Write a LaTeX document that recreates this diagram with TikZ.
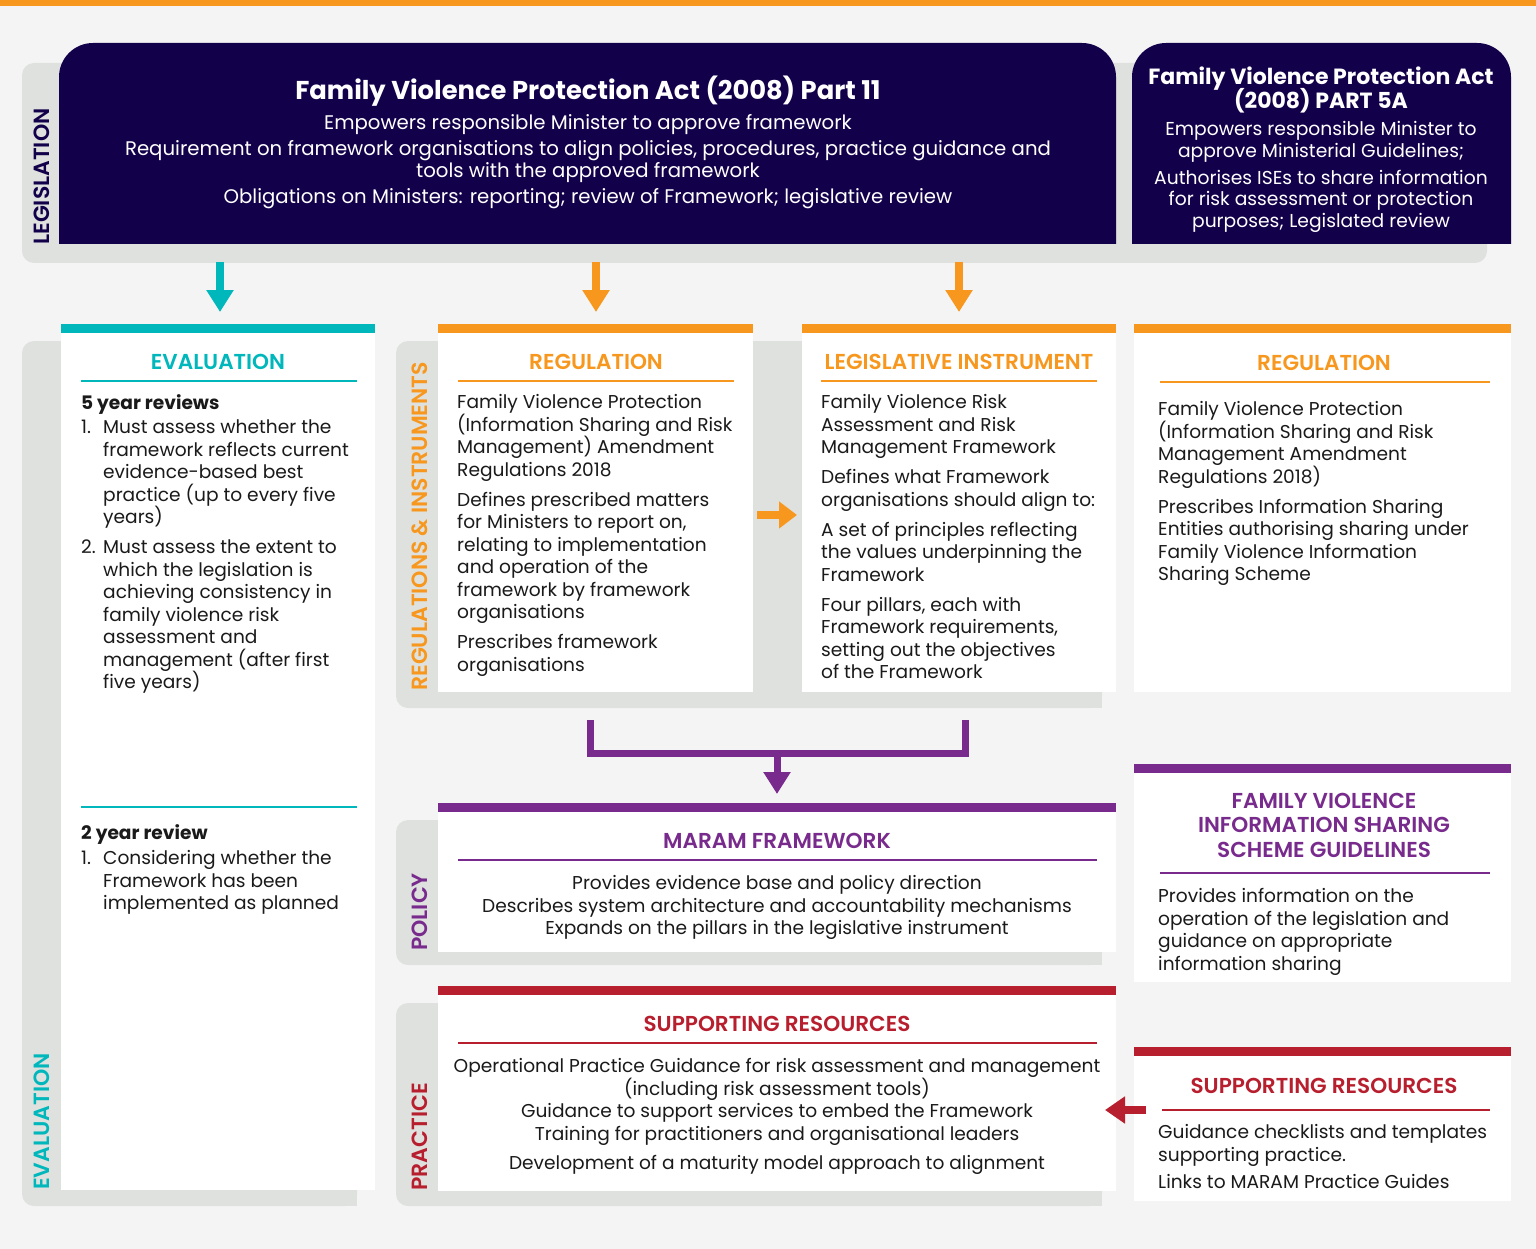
\documentclass[tikz,border=0pt]{standalone}
\usepackage{fontspec}
\setmainfont{Poppins}
\newfontfamily\semib{Poppins SemiBold}
\usetikzlibrary{arrows.meta}
\definecolor{navy}{HTML}{13004A}
\definecolor{tealc}{HTML}{00B7BC}
\definecolor{orangec}{HTML}{F7971D}
\definecolor{purplec}{HTML}{782B8D}
\definecolor{redc}{HTML}{B81F2E}
\definecolor{bandc}{HTML}{DFE1DE}
\definecolor{bgc}{HTML}{F4F4F4}
\definecolor{txt}{HTML}{1A1A1A}
\begin{document}
\begin{tikzpicture}[x=1pt,y=-1pt,
  card/.style={fill=white,draw=none,inner sep=0pt,anchor=north west},
  bar/.style={draw=none,inner sep=0pt,anchor=north west,minimum height=9pt},
  body/.style={font={\fontsize{18.6}{22.5}\selectfont\lineskiplimit=-30pt},text=txt,inner sep=0pt,align=left,anchor=north west},
  cbody/.style={body,align=center,anchor=north},
  ctitle/.style={font=\semib\fontsize{21.6}{24.5}\selectfont,inner sep=0pt,anchor=base},
  side/.style={font=\semib\fontsize{22}{22}\selectfont,rotate=90,anchor=base west,inner sep=0pt},
  rule/.style={line width=1.8pt},
  fat/.style={line width=8pt},
  tip/.style={-{Triangle[width=26pt,length=22pt]}}
]
\useasboundingbox (0,0) rectangle (1536,1249);
\fill[bgc] (0,0) rectangle (1536,1249);
\fill[orangec] (0,0) rectangle (1536,6);

% ---------- bands ----------
\fill[bandc,rounded corners=12pt] (22,63) rectangle (1487,263);
\fill[bandc,rounded corners=12pt] (22,341) rectangle (357,1206);
\fill[bandc] (100,341) rectangle (357,1206);
\fill[bandc,rounded corners=12pt] (396,341) rectangle (1102,708);
\fill[bandc] (600,341) rectangle (1102,708);
\fill[bandc,rounded corners=12pt] (396,820) rectangle (1102,965);
\fill[bandc] (600,820) rectangle (1102,965);
\fill[bandc,rounded corners=12pt] (396,1003) rectangle (1102,1206);
\fill[bandc] (600,1003) rectangle (1102,1206);

\node[side,text=navy] (lblleg) at (49,245) {LEGISLATION};
\node[side,text=tealc] (lbleval) at (49,1190) {EVALUATION};
\node[side,text=orangec] (lblreg) at (427,691) {REGULATIONS \& INSTRUMENTS};
\node[side,text=purplec] (lblpol) at (427,951) {POLICY};
\node[side,text=redc] (lblprac) at (427,1191) {PRACTICE};

% ---------- legislation boxes ----------
\fill[navy,rounded corners=34pt] (59,244) -- (59,43) -- (1116,43) -- (1116,244);
\fill[navy,rounded corners=34pt] (1132,244) -- (1132,43) -- (1511,43) -- (1511,244);

\node[font=\bfseries\fontsize{25.8}{28}\selectfont,text=white,inner sep=0pt,anchor=base] (p11title) at (588,99.5) {Family Violence Protection Act (2008) Part 11};
\node[cbody,text=white,font={\fontsize{19.7}{22}\selectfont\lineskiplimit=-30pt}] (p11body) at (588,114)
  {\strut Empowers responsible Minister to approve framework\\[4pt]
   Requirement on framework organisations to align policies, procedures, practice guidance and\\
   tools with the approved framework\\[4pt]
   Obligations on Ministers: reporting; review of Framework; legislative review};

\node[font={\bfseries\fontsize{22}{24}\selectfont\lineskiplimit=-30pt},text=white,inner sep=0pt,anchor=north,align=center] (p5title) at (1321,67)
  {\strut Family Violence Protection Act\\(2008) PART 5A};
\node[cbody,text=white,font={\fontsize{18.7}{21.5}\selectfont\lineskiplimit=-30pt}] (p5body) at (1321,120.5)
  {\strut Empowers responsible Minister to\\approve Ministerial Guidelines;\\[5.5pt]
   Authorises ISEs to share information\\for risk assessment or protection\\purposes; Legislated review};

% ---------- row 1 cards ----------
\node[card,minimum width=314pt,minimum height=866pt] (evalcard) at (61,324) {};
\node[bar,fill=tealc,minimum width=314pt] (evalbar) at (61,324) {};
\node[card,minimum width=315pt,minimum height=368pt] (regcard) at (438,324) {};
\node[bar,fill=orangec,minimum width=315pt] (regbar) at (438,324) {};
\node[card,minimum width=314pt,minimum height=368pt] (licard) at (802,324) {};
\node[bar,fill=orangec,minimum width=314pt] (libar) at (802,324) {};
\node[card,minimum width=377pt,minimum height=368pt] (reg2card) at (1134,324) {};
\node[bar,fill=orangec,minimum width=377pt] (reg2bar) at (1134,324) {};

% evaluation
\node[ctitle,text=tealc] (evaltitle) at (218,369) {EVALUATION};
\draw[rule,tealc] (81,381) -- (357,381);
\node[body,font=\bfseries\fontsize{18.6}{22.5}\selectfont] (fiveh) at (81,394) {\strut 5 year reviews};
\node[body] (n1) at (81,418) {\strut 1.};
\node[body] (t1) at (103,418) {\strut Must assess whether the\\framework reflects current\\evidence-based best\\practice (up to every five\\years)};
\node[body] (n2) at (81,538) {\strut 2.};
\node[body] (t2) at (103,538) {\strut Must assess the extent to\\which the legislation is\\achieving consistency in\\family violence risk\\assessment and\\management (after first\\five years)};
\draw[rule,tealc] (81,807) -- (357,807);
\node[body,font=\bfseries\fontsize{18.6}{22.5}\selectfont] (twoh) at (81,824) {\strut 2 year review};
\node[body] (n3) at (81,849) {\strut 1.};
\node[body] (t3) at (103,849) {\strut Considering whether the\\Framework has been\\implemented as planned};

% regulation
\node[ctitle,text=orangec] (regtitle) at (596,369) {REGULATION};
\draw[rule,orangec] (458,381) -- (734,381);
\node[body] (regtext) at (457,393) {\strut Family Violence Protection\\(Information Sharing and Risk\\Management) Amendment\\Regulations 2018\\[7.5pt]
  Defines prescribed matters\\for Ministers to report on,\\relating to implementation\\and operation of the\\framework by framework\\organisations\\[7.5pt]
  Prescribes framework\\organisations};

% legislative instrument
\node[ctitle,text=orangec] (lititle) at (959,369) {LEGISLATIVE INSTRUMENT};
\draw[rule,orangec] (821,381) -- (1097,381);
\node[body] (litext) at (821,393) {\strut Family Violence Risk\\Assessment and Risk\\Management Framework\\[7.5pt]
  Defines what Framework\\organisations should align to:\\[7.5pt]
  A set of principles reflecting\\the values underpinning the\\Framework\\[7.5pt]
  Four pillars, each with\\Framework requirements,\\setting out the objectives\\of the Framework};

% regulation 2
\node[ctitle,text=orangec] (reg2title) at (1324,370) {REGULATION};
\draw[rule,orangec] (1160,382) -- (1490,382);
\node[body] (reg2text) at (1158,400) {\strut Family Violence Protection\\(Information Sharing and Risk\\Management Amendment\\Regulations 2018)\\[7.5pt]
  Prescribes Information Sharing\\Entities authorising sharing under\\Family Violence Information\\Sharing Scheme};

% ---------- policy ----------
\node[card,minimum width=678pt,minimum height=149pt] (maramcard) at (438,803) {};
\node[bar,fill=purplec,minimum width=678pt] (marambar) at (438,803) {};
\node[ctitle,text=purplec] (maramtitle) at (777,848) {MARAM FRAMEWORK};
\draw[rule,purplec] (458,860) -- (1097,860);
\node[cbody] (maramtext) at (777,874) {\strut Provides evidence base and policy direction\\Describes system architecture and accountability mechanisms\\Expands on the pillars in the legislative instrument};

\node[card,minimum width=377pt,minimum height=218pt] (fvcard) at (1134,764) {};
\node[bar,fill=purplec,minimum width=377pt] (fvbar) at (1134,764) {};
\node[font=\semib\fontsize{21.6}{24.5}\selectfont,text=purplec,inner sep=0pt,anchor=north,align=center] (fvtitle) at (1324,791)
  {\strut FAMILY VIOLENCE\\INFORMATION SHARING\\SCHEME GUIDELINES};
\draw[rule,purplec] (1160,873) -- (1490,873);
\node[body] (fvtext) at (1158,887) {\strut Provides information on the\\operation of the legislation and\\guidance on appropriate\\information sharing};

% ---------- practice ----------
\node[card,minimum width=678pt,minimum height=205pt] (srcard) at (438,986) {};
\node[bar,fill=redc,minimum width=678pt] (srbar) at (438,986) {};
\node[ctitle,text=redc] (srtitle) at (777,1031) {SUPPORTING RESOURCES};
\draw[rule,redc] (458,1043) -- (1097,1043);
\node[cbody] (srtext) at (777,1057) {\strut Operational Practice Guidance for risk assessment and management\\(including risk assessment tools)\\Guidance to support services to embed the Framework\\Training for practitioners and organisational leaders\\[6.5pt]Development of a maturity model approach to alignment};

\node[card,minimum width=377pt,minimum height=154pt] (sr2card) at (1134,1047) {};
\node[bar,fill=redc,minimum width=377pt] (sr2bar) at (1134,1047) {};
\node[ctitle,text=redc] (sr2title) at (1324,1093) {SUPPORTING RESOURCES};
\draw[rule,redc] (1162,1110) -- (1490,1110);
\node[body] (sr2text) at (1158,1123) {\strut Guidance checklists and templates\\supporting practice.\\[5pt]Links to MARAM Practice Guides};

% ---------- connectors ----------
\coordinate (a1s) at (220,262); \coordinate (a1e) at (220,312);
\coordinate (a2s) at (596,262); \coordinate (a2e) at (596,312);
\coordinate (a3s) at (959,262); \coordinate (a3e) at (959,312);
\draw[fat,tealc,tip] (a1s) -- (a1e);
\draw[fat,orangec,tip] (a2s) -- (a2e);
\draw[fat,orangec,tip] (a3s) -- (a3e);

\coordinate (a4s) at (757,515); \coordinate (a4e) at (797,515);
\draw[fat,orangec,-{Triangle[width=26pt,length=18pt]}] (a4s) -- (a4e);

\coordinate (brl) at (590,720); \coordinate (brr) at (965,720); \coordinate (brm) at (777,753);
\coordinate (brtip) at (777,794);
\draw[line width=7pt,purplec,line join=miter] (brl) |- (brm) -| (brr);
\draw[line width=7pt,purplec,-{Triangle[width=26pt,length=22pt]}] (brm) -- (brtip);

\coordinate (a5s) at (1146,1110); \coordinate (a5e) at (1105,1110);
\draw[fat,redc,-{Triangle[width=26pt,length=20pt]}] (a5s) -- (a5e);
\end{tikzpicture}
\end{document}
